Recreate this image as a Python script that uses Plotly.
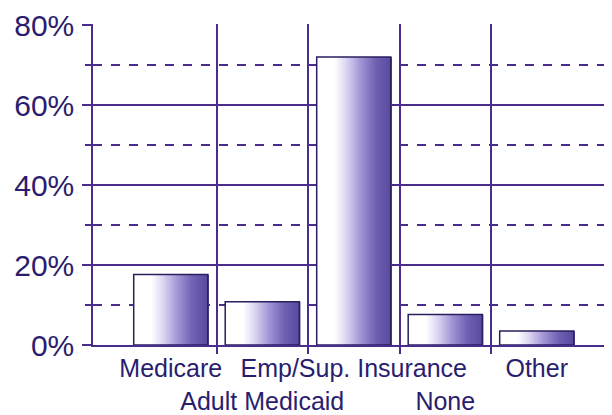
import plotly.graph_objects as go
import numpy as np

# data
categories = ['Medicare', 'Adult Medicaid', 'Emp/Sup. Insurance', 'None', 'Other']
tick_labels = ['Medicare', '<br>Adult Medicaid', 'Emp/Sup. Insurance', '<br>None', 'Other']
shares = [17.6, 10.8, 72.0, 7.6, 3.5]
y_ticks = [0, 20, 40, 60, 80]
y_minor = [10, 30, 50, 70]

TEXT = '#2a1d6e'
LINE = '#4a2c8c'
FONT = 'Liberation Sans, Arial, sans-serif'

# horizontal gradient inside each bar (white -> violet)
stops = [(0.0, (255, 255, 255)), (0.24, (255, 255, 255)), (0.4, (220, 212, 242)),
         (0.6, (160, 146, 212)), (0.8, (112, 96, 178)), (1.0, (88, 74, 158))]


def grad_color(t):
    for (t0, c0), (t1, c1) in zip(stops[:-1], stops[1:]):
        if t0 <= t <= t1:
            k = (t - t0) / (t1 - t0) if t1 > t0 else 0
            c = [round(a + (b - a) * k) for a, b in zip(c0, c1)]
            return f'rgb({c[0]},{c[1]},{c[2]})'
    return f'rgb{stops[-1][1]}'


x = list(range(len(categories)))
bar_w = 0.81
n_strips = 40
strip = bar_w / n_strips
x_range = [-0.85, 4.91]

fig = go.Figure()
for i in range(n_strips):
    fig.add_trace(go.Bar(
        x=x, y=shares,
        width=strip * 1.6,
        offset=-bar_w / 2 + i * strip,
        marker=dict(color=grad_color((i + 0.5) / n_strips), line=dict(width=0)),
        showlegend=False, hoverinfo='skip',
    ))
# outline of each bar
fig.add_trace(go.Bar(
    x=x, y=shares, width=bar_w,
    marker=dict(color='rgba(0,0,0,0)', line=dict(color='#2a1f5e', width=1.5)),
    showlegend=False, name='share',
))
# invisible trace to anchor the boundary axis
fig.add_trace(go.Scatter(x=[0], y=[0], xaxis='x2', mode='markers',
                         marker=dict(opacity=0), showlegend=False, hoverinfo='skip'))

fig.update_layout(
    width=612, height=415,
    margin=dict(l=85, r=0, t=16, b=78),
    paper_bgcolor='white', plot_bgcolor='white',
    barmode='overlay',
    font=dict(family=FONT, color=TEXT),
    xaxis=dict(
        range=x_range, tickvals=x, ticktext=tick_labels, tickangle=0,
        automargin=False,
        tickfont=dict(size=25, color=TEXT), ticks='', showgrid=False,
        showline=True, linecolor=LINE, linewidth=2, zeroline=False,
        ticklabelstandoff=0,
    ),
    xaxis2=dict(
        range=x_range, overlaying='x', side='bottom', anchor='y',
        tickvals=[0.5, 1.5, 2.5, 3.5], showticklabels=False, automargin=False,
        ticks='outside', ticklen=8, tickwidth=1.5, tickcolor=LINE,
        showgrid=True, gridcolor=LINE, gridwidth=1.5, zeroline=False, layer='below traces',
    ),
    yaxis=dict(
        range=[0, 80.25], tickvals=y_ticks, ticktext=[f'{v}%' for v in y_ticks],
        automargin=False,
        tickfont=dict(size=30, color=TEXT), ticks='outside', ticklen=9,
        tickwidth=1.5, tickcolor=LINE, showgrid=True, gridcolor=LINE, gridwidth=1.5,
        showline=True, linecolor=LINE, linewidth=1.5, zeroline=False,
        ticklabelstandoff=2,
        minor=dict(tickvals=y_minor, showgrid=True, gridcolor=LINE,
                   griddash='dash', gridwidth=1.5, ticks='outside', ticklen=6,
                   tickcolor=LINE, tickwidth=1.5),
    ),
)

fig.write_html('out.html')
